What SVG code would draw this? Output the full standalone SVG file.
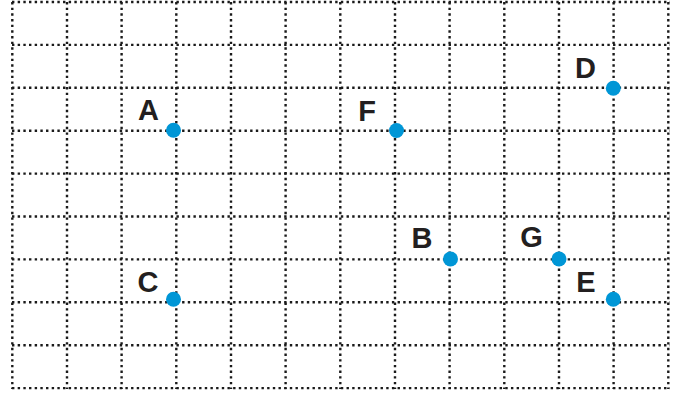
<svg xmlns="http://www.w3.org/2000/svg" width="683" height="394" viewBox="0 0 683 394">
<style>
.g{stroke:#1a1a1a;stroke-width:2.4;stroke-dasharray:2.4 3.27;fill:none}
.pt{fill:#0096d6}
.lb{font-family:"Liberation Sans",Arial,sans-serif;font-weight:bold;font-size:29px;fill:#231f20;text-anchor:middle}
</style>
<rect width="683" height="394" fill="#fff"/>
<g id="grid">
<path class="g" d="M12.3 2V389M67 2V389M121.6 2V389M176.3 2V389M231 2V389M285.6 2V389M340.3 2V389M395 2V389M449.6 2V389M504.3 2V389M559 2V389M613.6 2V389M668.3 2V389"/>
<path class="g" d="M12 2H670M12 44.9H670M12 87.8H670M12 130.7H670M12 173.6H670M12 216.5H670M12 259.4H670M12 302.3H670M12 345.2H670M12 388.1H670"/>
</g>
<g id="A"><circle class="pt" cx="173.5" cy="130.3" r="7.5"/><text class="lb" x="148.5" y="120">A</text></g>
<g id="F"><circle class="pt" cx="396.5" cy="130.5" r="7.5"/><text class="lb" x="367" y="121">F</text></g>
<g id="D"><circle class="pt" cx="613.3" cy="88.3" r="7.5"/><text class="lb" x="585.5" y="78">D</text></g>
<g id="B"><circle class="pt" cx="450.5" cy="259" r="7.5"/><text class="lb" x="422" y="248">B</text></g>
<g id="G"><circle class="pt" cx="559" cy="259" r="7.5"/><text class="lb" x="531.5" y="247">G</text></g>
<g id="C"><circle class="pt" cx="173.5" cy="299.3" r="7.5"/><text class="lb" x="148" y="292">C</text></g>
<g id="E"><circle class="pt" cx="613.3" cy="299.3" r="7.5"/><text class="lb" x="586" y="292">E</text></g>
</svg>
